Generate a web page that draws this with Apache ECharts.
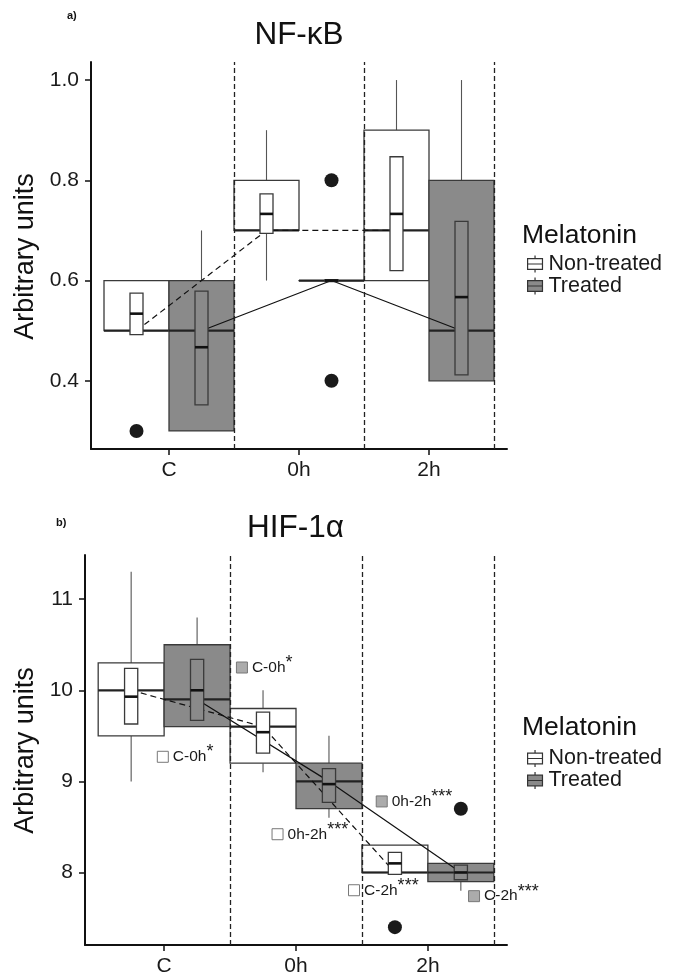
<!DOCTYPE html>
<html><head><meta charset="utf-8">
<script src="https://cdn.jsdelivr.net/npm/echarts@6/dist/echarts.min.js"></script>
<style>html,body{margin:0;padding:0;background:#fff}#c{width:678px;height:977px}</style>
</head><body><div id="c"></div>
<script>
const categories = ['C', '0h', '2h'];
const groupNames = ['Non-treated', 'Treated'];
const dividers = [0.5, 1.5, 2.5];

// NF-κB  box: [lower whisker, Q1, median, Q3, upper whisker] per category
const nfkbNtBox = [[0.5, 0.5, 0.5, 0.6, 0.6], [0.6, 0.7, 0.7, 0.8, 0.9], [0.6, 0.6, 0.7, 0.9, 1.0]];
const nfkbTrBox = [[0.3, 0.3, 0.5, 0.6, 0.7], [0.6, 0.6, 0.6, 0.6, 0.6], [0.4, 0.4, 0.5, 0.8, 1.0]];
// NF-κB  mean box: [mean - SE, mean, mean + SE]
const nfkbNtMean = [[0.492, 0.534, 0.575], [0.694, 0.733, 0.773], [0.62, 0.733, 0.847]];
const nfkbTrMean = [[0.352, 0.467, 0.579], [0.598, 0.6, 0.602], [0.412, 0.567, 0.718]];
// outliers: [category index, value]
const nfkbNtOut = [[0, 0.3]];
const nfkbTrOut = [[1, 0.8], [1, 0.4]];
const nfkbTicks = [0.4, 0.6, 0.8, 1.0];

// HIF-1α
const hifNtBox = [[9.0, 9.5, 10.0, 10.3, 11.3], [9.1, 9.2, 9.6, 9.8, 10.0], [8.0, 8.0, 8.0, 8.3, 8.3]];
const hifTrBox = [[9.6, 9.6, 9.9, 10.5, 10.8], [8.6, 8.7, 9.0, 9.2, 9.5], [7.8, 7.9, 8.0, 8.1, 8.1]];
const hifNtMean = [[9.63, 9.93, 10.24], [9.31, 9.54, 9.76], [7.98, 8.1, 8.22]];
const hifTrMean = [[9.67, 10.0, 10.34], [8.77, 8.97, 9.14], [7.92, 8.0, 8.08]];
const hifNtOut = [[2, 7.4]];
const hifTrOut = [[2, 8.7]];
const hifTicks = [8, 9, 10, 11];

// significance notes (panel b)
const noteLabels = ['C-0h', 'C-0h', '0h-2h', '0h-2h', 'C-2h', 'C-2h'];
const noteStars = ['*', '*', '***', '***', '***', '***'];
const noteX = [0.59, -0.01, 0.86, 1.65, 1.44, 2.35];
const noteY = [10.25, 9.27, 8.42, 8.78, 7.805, 7.74];
const noteGroup = [1, 0, 0, 1, 0, 1];

const FONT = '"Liberation Sans", Arial, Helvetica, sans-serif';
const FILLS = ['#ffffff', '#8a8a8a'];
const NOTE_FILLS = ['#ffffff', '#ababab'];
const OFFS = [-0.25, 0.25];
const EDGE = '#3a3a3a';

function wideRender(off, fill) {
  return function (params, api) {
    const cx = api.value(0) + off;
    const low = api.value(1), q1 = api.value(2), med = api.value(3), q3 = api.value(4), high = api.value(5);
    const tl = api.coord([cx - 0.25, q3]);
    const br = api.coord([cx + 0.25, q1]);
    const c = api.coord([cx, med]);
    const pHigh = api.coord([cx, high]);
    const pLow = api.coord([cx, low]);
    const medL = api.coord([cx - 0.25, med]);
    const medR = api.coord([cx + 0.25, med]);
    return {
      type: 'group',
      children: [
        { type: 'line', shape: { x1: c[0], y1: tl[1], x2: c[0], y2: pHigh[1] }, style: { stroke: '#555', lineWidth: 1.1 } },
        { type: 'line', shape: { x1: c[0], y1: br[1], x2: c[0], y2: pLow[1] }, style: { stroke: '#555', lineWidth: 1.1 } },
        { type: 'rect', shape: { x: tl[0], y: tl[1], width: br[0] - tl[0], height: Math.max(br[1] - tl[1], 0.01) }, style: { fill: fill, stroke: EDGE, lineWidth: 1.3 } },
        { type: 'line', shape: { x1: medL[0], y1: medL[1], x2: medR[0], y2: medR[1] }, style: { stroke: '#222', lineWidth: 2.2 } }
      ]
    };
  };
}

function narrowRender(off, fill) {
  return function (params, api) {
    const cx = api.value(0) + off;
    const lo = api.value(1), m = api.value(2), hi = api.value(3);
    const tl = api.coord([cx - 0.05, hi]);
    const br = api.coord([cx + 0.05, lo]);
    const ml = api.coord([cx - 0.05, m]);
    const mr = api.coord([cx + 0.05, m]);
    return {
      type: 'group',
      children: [
        { type: 'rect', shape: { x: tl[0], y: tl[1], width: br[0] - tl[0], height: br[1] - tl[1] }, style: { fill: fill, stroke: EDGE, lineWidth: 1.3 } },
        { type: 'line', shape: { x1: ml[0], y1: ml[1], x2: mr[0], y2: mr[1] }, style: { stroke: '#111', lineWidth: 2.6 } }
      ]
    };
  };
}

function panelSeries(gi, boxes, means, outs) {
  const res = [];
  [0, 1].forEach(g => {
    const off = OFFS[g];
    res.push({
      type: 'custom', name: groupNames[g], xAxisIndex: gi, yAxisIndex: gi, z: 2,
      itemStyle: { color: FILLS[g] },
      data: boxes[g].map((b, i) => [i].concat(b)),
      renderItem: wideRender(off, FILLS[g])
    });
    const lineS = {
      type: 'line', name: groupNames[g] + ' median', xAxisIndex: gi, yAxisIndex: gi, z: 3,
      symbol: 'none', silent: true,
      lineStyle: { color: '#111', width: 1.2, type: g === 0 ? [6, 4] : 'solid' },
      data: boxes[g].map((b, i) => [i + off, b[2]])
    };
    if (g === 0) {
      lineS.markLine = {
        silent: true, symbol: ['none', 'none'], label: { show: false },
        lineStyle: { color: '#222', width: 1.3, type: [5, 3] },
        data: dividers.map(d => ({ xAxis: d }))
      };
    }
    res.push(lineS);
    res.push({
      type: 'custom', name: groupNames[g], xAxisIndex: gi, yAxisIndex: gi, z: 4,
      itemStyle: { color: FILLS[g] },
      data: means[g].map((m, i) => [i].concat(m)),
      renderItem: narrowRender(off, FILLS[g])
    });
    res.push({
      type: 'scatter', name: groupNames[g] + ' outliers', xAxisIndex: gi, yAxisIndex: gi, z: 5,
      symbolSize: 14, itemStyle: { color: '#1a1a1a', opacity: 1 },
      data: outs[g].map(o => [o[0] + off, o[1]])
    });
  });
  return res;
}

function mkX(gi) {
  const idx = categories.map((c, i) => i);
  return {
    type: 'value', gridIndex: gi, min: -0.6, max: 2.6,
    axisLine: { onZero: false, lineStyle: { color: '#111', width: 2 } },
    axisTick: { customValues: idx, length: 6, lineStyle: { color: '#111', width: 1.5 } },
    axisLabel: { customValues: idx, formatter: v => categories[Math.round(v)], fontSize: 21, color: '#1a1a1a', margin: 11, fontFamily: FONT },
    splitLine: { show: false }
  };
}
function mkY(gi, min, max, ticks, dec) {
  return {
    type: 'value', gridIndex: gi, min: min, max: max,
    axisLine: { show: true, onZero: false, lineStyle: { color: '#111', width: 2 } },
    axisTick: { show: true, customValues: ticks, length: 6, lineStyle: { color: '#111', width: 1.5 } },
    axisLabel: { customValues: ticks, formatter: v => Number(v).toFixed(dec), fontSize: 21, color: '#1a1a1a', margin: 12, fontFamily: FONT },
    splitLine: { show: false }
  };
}

const series = []
  .concat(panelSeries(0, [nfkbNtBox, nfkbTrBox], [nfkbNtMean, nfkbTrMean], [nfkbNtOut, nfkbTrOut]))
  .concat(panelSeries(1, [hifNtBox, hifTrBox], [hifNtMean, hifTrMean], [hifNtOut, hifTrOut]));

series.push({
  type: 'scatter', name: 'notes', xAxisIndex: 1, yAxisIndex: 1, z: 6,
  symbol: 'rect', symbolSize: 11,
  itemStyle: { borderColor: '#777', borderWidth: 1, opacity: 1 },
  label: {
    show: true, position: 'right', distance: 4,
    rich: {
      t: { fontSize: 15.5, color: '#1a1a1a', fontFamily: FONT },
      s: { fontSize: 18, color: '#1a1a1a', fontFamily: FONT, padding: [0, 0, 9, 0] }
    }
  },
  data: noteLabels.map((t, i) => ({
    value: [noteX[i], noteY[i]],
    itemStyle: { color: NOTE_FILLS[noteGroup[i]] },
    label: { formatter: '{t|' + t + '}{s|' + noteStars[i] + '}' }
  }))
});

const ICON = 'path://M8,0L8,3M1,3L15,3L15,13L1,13ZM1,8L15,8M8,13L8,16';
function mkLegend(top) {
  return {
    orient: 'vertical', left: 522, top: top, itemWidth: 17, itemHeight: 17, itemGap: 0,
    selectedMode: false,
    itemStyle: { borderColor: '#333', borderWidth: 1.2 },
    textStyle: { fontSize: 21.5, color: '#1a1a1a', fontFamily: FONT, lineHeight: 20, padding: [0, 0, 0, 0] },
    data: groupNames.map(n => ({ name: n, icon: ICON }))
  };
}

function txt(text, x, y, size, opts) {
  return Object.assign({
    type: 'text', x: x, y: y, silent: true,
    style: Object.assign({ text: text, fill: '#111', font: size + 'px ' + FONT, textAlign: 'center', textVerticalAlign: 'middle', align: 'center', verticalAlign: 'middle' }, (opts && opts.style) || {})
  }, (opts && opts.el) || {});
}

const option = {
  animation: false,
  backgroundColor: '#fff',
  grid: [
    { left: 91, right: 171, top: 62, bottom: 528 },
    { left: 85, right: 171, top: 555, bottom: 31 }
  ],
  xAxis: [mkX(0), mkX(1)],
  yAxis: [mkY(0, 0.264, 1.036, nfkbTicks, 1), mkY(1, 7.204, 11.485, hifTicks, 0)],
  legend: [mkLegend(248), mkLegend(742.5)],
  series: series,
  graphic: [
    txt('a)', 67, 16, 11, { style: { textAlign: 'left', align: 'left', font: 'bold 11px ' + FONT } }),
    txt('b)', 56, 522.5, 11, { style: { textAlign: 'left', align: 'left', font: 'bold 11px ' + FONT } }),
    txt('NF-κB', 299, 35, 31.5),
    txt('HIF-1α', 295.5, 528, 31.5),
    txt('Arbitrary units', 26, 256.5, 27, { el: { rotation: Math.PI / 2 } }),
    txt('Arbitrary units', 26, 750.5, 27, { el: { rotation: Math.PI / 2 } }),
    txt('Melatonin', 522, 235.5, 26.5, { style: { textAlign: 'left', align: 'left' } }),
    txt('Melatonin', 522, 727.5, 26.5, { style: { textAlign: 'left', align: 'left' } })
  ]
};

const chart = echarts.init(document.getElementById('c'), null, { renderer: 'canvas' });
chart.setOption(option);
</script>
</body></html>
